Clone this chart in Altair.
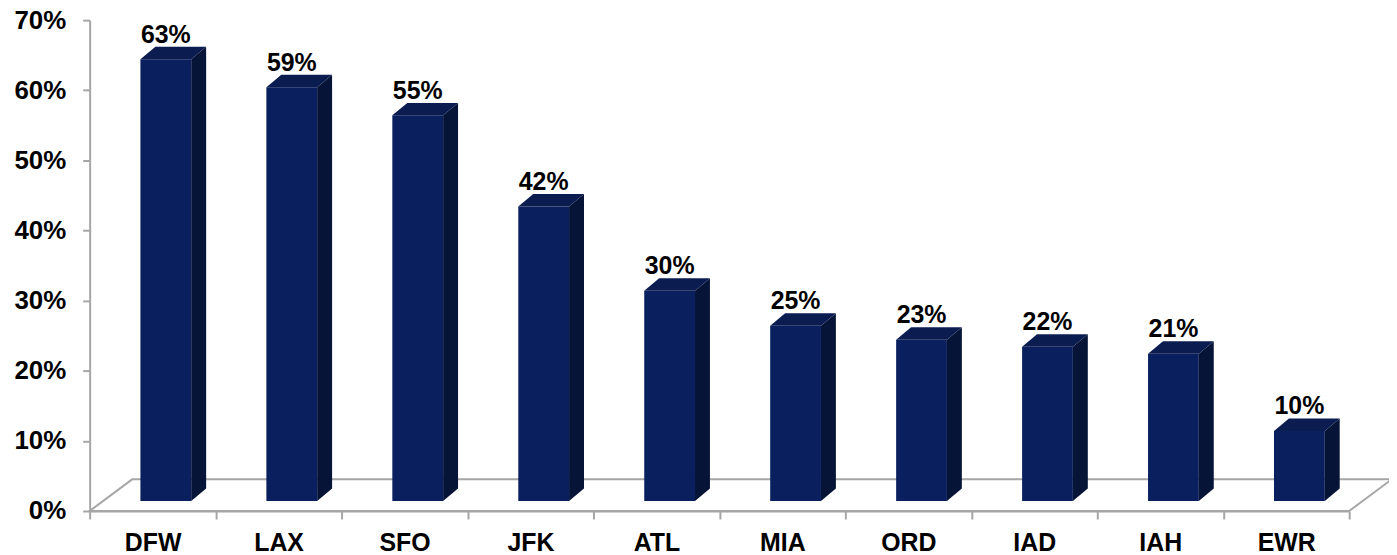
import altair as alt
import pandas as pd

# ---- data ----
airports = ["DFW", "LAX", "SFO", "JFK", "ATL", "MIA", "ORD", "IAD", "IAH", "EWR"]
shares = [63, 59, 55, 42, 30, 25, 23, 22, 21, 10]
y_ticks = [0, 10, 20, 30, 40, 50, 60, 70]

# ---- geometry (style) constants ----
W, H = 1265, 493
PX_X = W / len(airports)          # pixels per category unit
PX_Y = H / 70.0                   # pixels per percentage point
FRONT_L = 51 / PX_X               # front face left inside the band
FRONT_W = 51 / PX_X               # front face width
DX = 15 / PX_X                    # bar depth, horizontal
DY = 12.5 / PX_Y                  # bar depth, vertical
BASE = 10 / PX_Y                  # bar base raised above the floor's front edge
FDX = 43 / PX_X                   # floor depth, horizontal
FDY = 32 / PX_Y                   # floor depth, vertical

FRONT = "#0a1f5e"
SIDE = "#061438"
TOP = "#0b1c50"
GREY = "#a6a6a6"
FONT = "Liberation Sans"

front_rows, side_rows, top_rows, label_rows = [], [], [], []
for i, (a, v) in enumerate(zip(airports, shares)):
    l = i + FRONT_L
    r = l + FRONT_W
    front_rows.append({"bar": a, "x": l, "x2": r, "y": BASE, "y2": BASE + v})
    side_rows += [
        {"bar": a, "x": r, "lo": BASE, "hi": BASE + v},
        {"bar": a, "x": r + DX, "lo": BASE + DY, "hi": BASE + v + DY},
    ]
    top_rows += [
        {"bar": a, "y": BASE + v, "x": l, "x2": r},
        {"bar": a, "y": BASE + v + DY, "x": l + DX, "x2": r + DX},
    ]
    label_rows.append({"bar": a, "x": (l + r) / 2, "y": BASE + v + DY, "txt": f"{v}%"})

floor_rows = [
    {"y": 0, "x": 0, "x2": len(airports)},
    {"y": FDY, "x": FDX, "x2": len(airports) + FDX},
]

xq = alt.Scale(domain=[0, len(airports)], nice=False, zero=False)
yq = alt.Scale(domain=[0, 70], nice=False, zero=True)

y_axis = alt.Axis(
    values=y_ticks, labelExpr="datum.value + '%'", grid=False,
    domainColor=GREY, domainWidth=2, tickColor=GREY, tickWidth=2, tickSize=7,
    labelFont=FONT, labelFontSize=26, labelFontWeight="bold", labelColor="black",
    labelPadding=17, title=None,
)


def xq_enc(field):
    return alt.X(field, scale=xq, axis=None)


def yq_enc(field):
    return alt.Y(field, scale=yq, axis=y_axis)


floor = alt.Chart(pd.DataFrame(floor_rows)).mark_area(
    orient="horizontal", fill="white", stroke=GREY, strokeWidth=2
).encode(
    y=yq_enc("y:Q"),
    x=xq_enc("x:Q"),
    x2="x2:Q",
)

axis_layer = alt.Chart(pd.DataFrame({"airport": airports, "v": shares})).mark_point(
    opacity=0
).encode(
    x=alt.X(
        "airport:N", sort=airports,
        scale=alt.Scale(paddingInner=0, paddingOuter=0),
        axis=alt.Axis(
            orient="bottom", tickBand="extent", labelAngle=0, title=None,
            domainColor=GREY, domainWidth=2, tickColor=GREY, tickWidth=2, tickSize=8,
            labelFont=FONT, labelFontSize=25, labelFontWeight="bold", labelColor="black",
            labelPadding=12,
        ),
    ),
    y=yq_enc("v:Q"),
)

front = alt.Chart(pd.DataFrame(front_rows)).mark_rect(color=FRONT).encode(
    x=xq_enc("x:Q"), x2="x2:Q", y=yq_enc("y:Q"), y2="y2:Q"
)

side = alt.Chart(pd.DataFrame(side_rows)).mark_area(
    orient="vertical", color=SIDE
).encode(
    x=xq_enc("x:Q"), y=yq_enc("lo:Q"), y2="hi:Q", detail="bar:N"
)

top = alt.Chart(pd.DataFrame(top_rows)).mark_area(
    orient="horizontal", color=TOP
).encode(
    y=yq_enc("y:Q"), x=xq_enc("x:Q"), x2="x2:Q", detail="bar:N"
)

labels = alt.Chart(pd.DataFrame(label_rows)).mark_text(
    font=FONT, fontSize=25, fontWeight="bold", color="black",
    baseline="alphabetic", align="center", dy=-4,
).encode(
    x=xq_enc("x:Q"), y=yq_enc("y:Q"), text="txt:N"
)

chart = alt.layer(floor, axis_layer, front, side, top, labels).resolve_scale(
    x="independent"
).properties(
    width=W, height=H,
    autosize=alt.AutoSizeParams(type="none"),
    padding={"left": 82, "top": 11, "right": 40, "bottom": 44},
).configure(background="white", view=alt.ViewConfig(stroke=None))

chart.save("out.html", embed_options={"renderer": "svg", "actions": False})
